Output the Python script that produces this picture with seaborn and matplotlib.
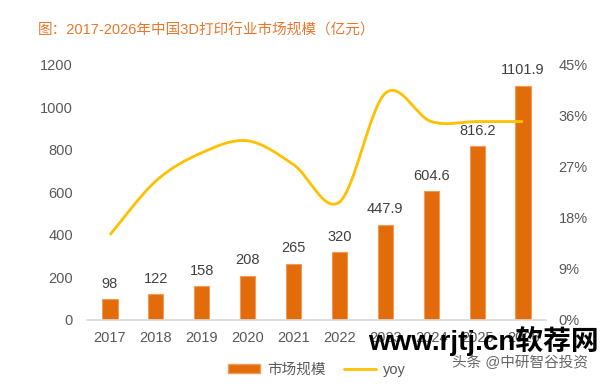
import matplotlib
matplotlib.use("Agg")
import matplotlib.pyplot as plt
from matplotlib.path import Path
from matplotlib.patches import PathPatch, Patch
from matplotlib.lines import Line2D
import seaborn as sns
import pandas as pd
import numpy as np

years = ["2017", "2018", "2019", "2020", "2021", "2022", "2023", "2024", "2025", "2026"]
market = [98, 122, 158, 208, 265, 320, 447.9, 604.6, 816.2, 1101.9]
market_labels = ["98", "122", "158", "208", "265", "320", "447.9", "604.6", "816.2", "1101.9"]
yoy = [15.0, 24.5, 29.5, 31.6, 27.4, 20.8, 40.0, 35.0, 35.0, 35.0]
left_ticks = [0, 200, 400, 600, 800, 1000, 1200]
right_ticks = [0, 9, 18, 27, 36, 45]

sns.set_theme(style="white")
plt.rcParams['font.family'] = ['Liberation Sans', 'Noto Sans CJK SC', 'DejaVu Sans']

BAR = "#E36C0A"
EDGE = "#F29A5A"
LINE = "#FFC000"
GREY = "#595959"

fig = plt.figure(figsize=(6.04, 3.84), dpi=100)
ax = fig.add_axes([0.144, 0.167, 0.760, 0.664])
df = pd.DataFrame({"year": years, "market": market})
sns.barplot(data=df, x="year", y="market", color=BAR, width=0.33, ax=ax,
            saturation=1, edgecolor=EDGE, linewidth=0.8)
ax.set_xlim(-0.5, 9.5)
ax.set_ylim(0, 1200)
ax.set_yticks(left_ticks)
ax.set_xlabel("")
ax.set_ylabel("")
ax.tick_params(axis="both", colors=GREY, labelsize=10.5, length=0)
ax.tick_params(axis="y", pad=10)
ax.tick_params(axis="x", pad=8)
for s in ["top", "right", "left"]:
    ax.spines[s].set_visible(False)
ax.spines["bottom"].set_color("#D9D9D9")
ax.bar_label(ax.containers[0], labels=market_labels, padding=6, color="#404040", fontsize=10.5)

ax2 = ax.twinx()
ax2.set_ylim(0, 45)
ax2.set_yticks(right_ticks)
ax2.set_yticklabels([f"{t}%" for t in right_ticks])
ax2.tick_params(axis="y", colors=GREY, labelsize=10.5, length=0, pad=9)
for s in ["top", "right", "left", "bottom"]:
    ax2.spines[s].set_visible(False)

# smooth (Catmull-Rom style Bezier) yoy line in data coordinates
pts = np.column_stack([np.arange(len(yoy)), yoy]).astype(float)
verts = [tuple(pts[0])]
codes = [Path.MOVETO]
n = len(pts)
for i in range(n - 1):
    p0 = pts[max(i - 1, 0)]
    p1 = pts[i]
    p2 = pts[i + 1]
    p3 = pts[min(i + 2, n - 1)]
    c1 = p1 + (p2 - p0) / 6.0
    c2 = p2 - (p3 - p1) / 6.0
    verts += [tuple(c1), tuple(c2), tuple(p2)]
    codes += [Path.CURVE4] * 3
ax2.add_patch(PathPatch(Path(verts, codes), facecolor="none", edgecolor=LINE,
                        linewidth=2.0, transform=ax2.transData, zorder=5))

fig.text(0.062, 0.922, "图：2017-2026年中国3D打印行业市场规模（亿元）", color="#E8772E",
         fontsize=10.5, ha="left", va="center")

handles = [Patch(facecolor=BAR, edgecolor=EDGE), Line2D([0], [0], color=LINE, lw=2)]
fig.legend(handles, ["市场规模", "yoy"], loc="center", bbox_to_anchor=(0.525, 0.037),
           ncol=2, frameon=False, fontsize=10.5, labelcolor=GREY, handlelength=2.2,
           handleheight=0.55, handletextpad=0.5, columnspacing=1.2)

fig.text(0.609, 0.113, "www.rjtj.cn软荐网", color="black", fontsize=20,
         fontweight="bold", ha="left", va="center", zorder=10)
fig.text(0.748, 0.055, "头条 @中研智谷投资", color="#666666", fontsize=10.5,
         ha="left", va="center", zorder=10)

fig.savefig("out.png", dpi=100)
